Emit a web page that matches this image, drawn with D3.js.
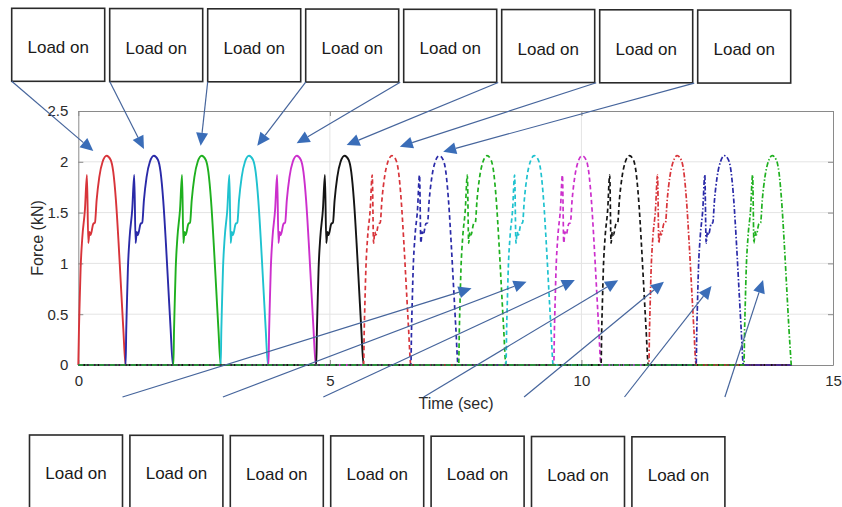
<!DOCTYPE html>
<html>
<head>
<meta charset="utf-8">
<script src="https://cdn.jsdelivr.net/npm/d3@7"></script>
<style>
  html, body { margin: 0; padding: 0; background: #fff; }
  svg { display: block; }
  text { font-family: "Liberation Sans", Arial, Helvetica, sans-serif; }
</style>
</head>
<body>
<svg id="chart" width="842" height="507"></svg>
<script>
// ---- data ----
// one loading cycle: time since load-on (s) and force (kN)
const profileTime  = [0, 0.013, 0.026, 0.046, 0.079, 0.132, 0.172, 0.199, 0.222, 0.245, 0.298, 0.331,
                      0.364, 0.417, 0.483, 0.563, 0.642, 0.695, 0.748, 0.801, 0.854, 0.894, 0.94];
const profileForce = [0, 0.35, 0.6, 0.95, 1.25, 1.53, 1.87, 1.2, 1.31, 1.28, 1.39, 1.4,
                      1.62, 1.85, 2.0, 2.06, 2.02, 1.9, 1.62, 1.2, 0.72, 0.36, 0];
// load-on instants of the 15 cycles (s)
const cycleStarts = [0, 0.94, 1.89, 2.83, 3.78, 4.73, 5.67, 6.61, 7.56, 8.50, 9.45, 10.39, 11.34, 12.28, 13.23];
const recordEnd = 14.17;
const seriesColors = ["#d8343a", "#2a2aa8", "#1fb01f", "#1fc2cf", "#cc2fcc", "#141414",
                      "#d8343a", "#2a2aa8", "#1fb01f", "#1fc2cf", "#cc2fcc", "#141414",
                      "#d8343a", "#2a2aa8", "#1fb01f"];
const seriesStyles = ["solid", "solid", "solid", "solid", "solid", "solid",
                      "dash", "dash", "dash", "dash", "dash", "dash",
                      "dashdot", "dashdot", "dashdot"];
const xTicks = [0, 5, 10, 15];
const yTicks = [0, 0.5, 1, 1.5, 2, 2.5];
// annotation targets (time s, force kN)
const topTargets = [[0.298, 2.106], [1.305, 2.126], [2.432, 2.158], [3.557, 2.158],
                    [4.339, 2.182], [5.333, 2.165], [6.39, 2.149], [7.252, 2.099]];
const bottomTargets = [[7.816, 0.755], [8.909, 0.82], [9.869, 0.837], [10.73, 0.834],
                       [11.64, 0.82], [12.585, 0.778], [13.61, 0.837]];
const noteText = "Load on";

// ---- layout ----
const svg = d3.select("#chart");
const plot = { left: 78.3, right: 833, top: 111, bottom: 365 };
const x = d3.scaleLinear().domain([0, 15]).range([plot.left, plot.right]);
const y = d3.scaleLinear().domain([0, 2.5]).range([plot.bottom, plot.top]);

// grid
const grid = svg.append("g");
grid.selectAll("line.gx").data(xTicks.slice(1, -1)).join("line")
  .attr("x1", d => x(d)).attr("x2", d => x(d))
  .attr("y1", plot.top).attr("y2", plot.bottom)
  .attr("stroke", "#e4e4e4").attr("stroke-width", 1);
grid.selectAll("line.gy").data(yTicks.slice(1, -1)).join("line")
  .attr("x1", plot.left).attr("x2", plot.right)
  .attr("y1", d => y(d)).attr("y2", d => y(d))
  .attr("stroke", "#e4e4e4").attr("stroke-width", 1);

// axes (ticks inside, mirrored on top and right)
const axisColor = "#8a8a8a";
function styleAxis(g) {
  g.select(".domain").attr("stroke", axisColor);
  g.selectAll(".tick line").attr("stroke", axisColor);
  g.selectAll(".tick text").attr("fill", "#2b2b2b").style("font-size", "15px")
    .style("font-family", "'Liberation Sans', Arial, sans-serif");
}
svg.append("g").attr("transform", `translate(0,${plot.bottom})`)
  .call(d3.axisBottom(x).tickValues(xTicks).tickSizeInner(-5).tickSizeOuter(0).tickPadding(10).tickFormat(d3.format("d")))
  .call(styleAxis);
svg.append("g").attr("transform", `translate(0,${plot.top})`)
  .call(d3.axisTop(x).tickValues(xTicks).tickSizeInner(-5).tickSizeOuter(0).tickFormat(""))
  .call(styleAxis);
svg.append("g").attr("transform", `translate(${plot.left},0)`)
  .call(d3.axisLeft(y).tickValues(yTicks).tickSizeInner(-5).tickSizeOuter(0).tickPadding(10).tickFormat(d => d3.format("")(d)))
  .call(styleAxis);
svg.append("g").attr("transform", `translate(${plot.right},0)`)
  .call(d3.axisRight(y).tickValues(yTicks).tickSizeInner(-5).tickSizeOuter(0).tickFormat(""))
  .call(styleAxis);

// force series: each channel is zero except during its own cycle
const series = cycleStarts.map((s, i) => {
  const pts = [];
  if (s > 0) pts.push([0, 0]);
  profileTime.forEach((t, k) => pts.push([s + t, profileForce[k]]));
  if (s + profileTime[profileTime.length - 1] < recordEnd) pts.push([recordEnd, 0]);
  return { pts, color: seriesColors[i], style: seriesStyles[i] };
});
const dashes = { solid: null, dash: "4.5,3", dashdot: "5,2,1.5,2" };
const line = d3.line().x(d => x(d[0])).y(d => y(d[1])).curve(d3.curveMonotoneX);
svg.append("g").selectAll("path").data(series).join("path")
  .attr("d", d => line(d.pts))
  .attr("fill", "none")
  .attr("stroke", d => d.color)
  .attr("stroke-width", d => d.style === "solid" ? 1.9 : 1.7)
  .attr("stroke-dasharray", d => dashes[d.style])
  .attr("stroke-linejoin", "round");

// axis titles
svg.append("text").attr("x", 456).attr("y", 409).attr("text-anchor", "middle")
  .attr("fill", "#2b2b2b").style("font-size", "16px").text("Time (sec)");
svg.append("text").attr("transform", "translate(43,238) rotate(-90)").attr("text-anchor", "middle")
  .attr("fill", "#2b2b2b").style("font-size", "16px").text("Force (kN)");

// callout boxes and arrows
const arrowLine = "#46659c", arrowHead = "#3a6db8";
function arrow(g, x0, y0, x1, y1) {
  const dx = x1 - x0, dy = y1 - y0, len = Math.hypot(dx, dy);
  const ux = dx / len, uy = dy / len, hl = 13, hw = 6;
  const bx = x1 - ux * hl, by = y1 - uy * hl;
  g.append("line").attr("x1", x0).attr("y1", y0).attr("x2", bx).attr("y2", by)
    .attr("stroke", arrowLine).attr("stroke-width", 1.2);
  g.append("path")
    .attr("d", `M${x1},${y1}L${bx - uy * hw},${by + ux * hw}L${bx + uy * hw},${by - ux * hw}Z`)
    .attr("fill", arrowHead);
}
const notes = svg.append("g");
const boxW = 93, boxH = 73;
topTargets.forEach((d, i) => {
  const bx = 11.7 + i * 98.0, by = 8.3 + i * 0.25;
  notes.append("rect").attr("x", bx).attr("y", by).attr("width", boxW).attr("height", boxH)
    .attr("fill", "#fff").attr("stroke", "#2a2a2a").attr("stroke-width", 1.6);
  notes.append("text").attr("x", bx + boxW / 2).attr("y", by + 45).attr("text-anchor", "middle")
    .attr("fill", "#1a1a1a").style("font-size", "17px").text(noteText);
  arrow(notes, bx - (i >= 4 ? 3.5 : 0), by + boxH, x(d[0]), y(d[1]));
});
bottomTargets.forEach((d, i) => {
  const bx = 29.5 + i * 100.4, by = 435 + i * 0.3;
  notes.append("rect").attr("x", bx).attr("y", by).attr("width", boxW).attr("height", 90)
    .attr("fill", "#fff").attr("stroke", "#2a2a2a").attr("stroke-width", 1.6);
  notes.append("text").attr("x", bx + boxW / 2).attr("y", by + 44).attr("text-anchor", "middle")
    .attr("fill", "#1a1a1a").style("font-size", "17px").text(noteText);
  arrow(notes, bx + boxW, 397, x(d[0]), y(d[1]));
});
</script>
</body>
</html>
